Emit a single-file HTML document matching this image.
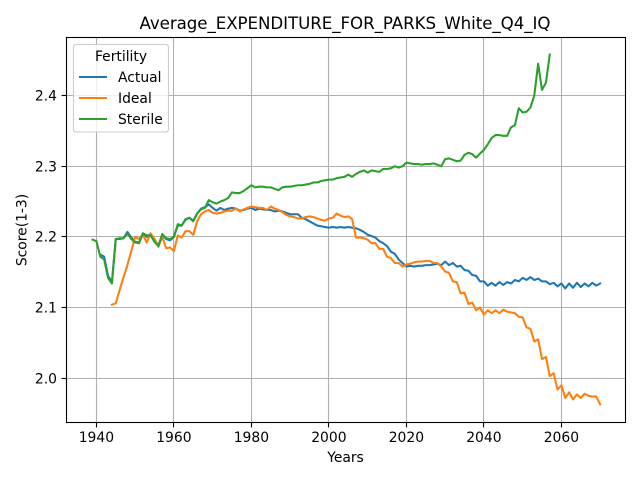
<!DOCTYPE html>
<html>
<head>
<meta charset="utf-8">
<title>Average_EXPENDITURE_FOR_PARKS_White_Q4_IQ</title>
<style>
html,body{margin:0;padding:0;background:#fff;width:640px;height:480px;overflow:hidden}
svg{display:block}
text{font-family:"DejaVu Sans","Liberation Sans",sans-serif;fill:#000}
</style>
</head>
<body>
<svg id="chart" width="640" height="480" viewBox="0 0 640 480" xmlns="http://www.w3.org/2000/svg"></svg>
<script>
const xTickLabels = [1940, 1960, 1980, 2000, 2020, 2040, 2060];
const yTickLabels = ["2.0", "2.1", "2.2", "2.3", "2.4"];
const seriesNames = ["Actual", "Ideal", "Sterile"];
const actualStartYear = 1941;
const idealStartYear = 1944;
const sterileStartYear = 1939;
const actualValues = [2.175,2.172,2.145,2.136,2.197,2.197,2.198,2.207,2.199,2.193,2.192,2.205,2.2,2.204,2.195,2.188,2.203,2.197,2.195,2.2,
2.216,2.216,2.225,2.227,2.223,2.233,2.24,2.242,2.246,2.241,2.237,2.241,2.238,2.24,2.241,2.24,2.237,2.238,2.24,2.241,
2.238,2.24,2.239,2.238,2.238,2.236,2.237,2.236,2.234,2.232,2.232,2.232,2.227,2.225,2.222,2.219,2.216,2.215,2.214,2.213,
2.214,2.213,2.214,2.213,2.214,2.213,2.212,2.21,2.207,2.203,2.201,2.199,2.194,2.191,2.187,2.179,2.176,2.168,2.163,2.158,
2.159,2.158,2.159,2.159,2.16,2.16,2.161,2.162,2.16,2.165,2.16,2.163,2.158,2.159,2.153,2.152,2.146,2.145,2.137,2.137,
2.131,2.135,2.131,2.136,2.132,2.136,2.134,2.139,2.137,2.142,2.139,2.143,2.139,2.141,2.137,2.137,2.133,2.135,2.13,2.134,
2.127,2.134,2.128,2.135,2.129,2.134,2.13,2.135,2.131,2.134];
const idealValues = [2.104,2.106,2.125,2.143,2.16,2.18,2.2,2.197,2.203,2.192,2.205,2.197,2.186,2.2,2.184,2.185,
2.18,2.202,2.199,2.208,2.208,2.203,2.222,2.232,2.236,2.238,2.234,2.233,2.234,2.236,2.237,2.237,2.24,2.236,2.239,2.241,
2.243,2.242,2.241,2.241,2.238,2.243,2.24,2.238,2.235,2.231,2.229,2.228,2.226,2.226,2.228,2.229,2.228,2.226,2.224,2.223,
2.226,2.227,2.233,2.23,2.228,2.229,2.225,2.199,2.199,2.198,2.196,2.191,2.191,2.183,2.183,2.172,2.17,2.163,2.163,2.158,
2.161,2.162,2.164,2.165,2.165,2.166,2.166,2.163,2.163,2.158,2.151,2.149,2.137,2.136,2.12,2.121,2.105,2.107,2.096,2.1,
2.09,2.096,2.092,2.096,2.092,2.097,2.094,2.093,2.092,2.087,2.086,2.072,2.07,2.052,2.055,2.027,2.03,2.003,2.007,1.984,
1.99,1.972,1.98,1.97,1.977,1.972,1.978,1.975,1.974,1.974,1.963];
const sterileValues = [2.196,2.194,2.172,2.168,2.142,2.134,2.197,2.198,2.198,2.205,2.197,2.192,2.191,2.205,2.202,2.202,2.193,2.187,2.204,2.198,2.197,
2.2,2.218,2.216,2.224,2.227,2.222,2.233,2.239,2.241,2.252,2.249,2.247,2.25,2.252,2.255,2.263,2.262,2.262,2.265,2.269,
2.273,2.27,2.271,2.271,2.27,2.27,2.268,2.266,2.27,2.271,2.271,2.272,2.273,2.273,2.274,2.275,2.277,2.277,2.279,2.28,
2.281,2.281,2.283,2.284,2.285,2.288,2.285,2.289,2.292,2.294,2.291,2.294,2.293,2.292,2.296,2.296,2.297,2.3,2.298,2.3,
2.305,2.304,2.303,2.303,2.302,2.303,2.303,2.304,2.302,2.3,2.31,2.311,2.309,2.307,2.308,2.316,2.319,2.317,2.312,2.318,
2.323,2.331,2.34,2.344,2.344,2.343,2.343,2.355,2.358,2.382,2.376,2.377,2.383,2.4,2.445,2.408,2.418,2.458];

const NS = "http://www.w3.org/2000/svg";
const svg = document.getElementById("chart");
const plot = {left: 66.5, right: 625.5, top: 37.5, bottom: 422.5};
function xScale(year) { return 96.4 + (year - 1940) * 3.875; }
function yScale(v) { return 378.2 - (v - 2.0) * 706.7; }
function snap(p) { return Math.floor(p) + 0.5; }
function make(tag, attrs, parent) {
  const el = document.createElementNS(NS, tag);
  for (const k in attrs) el.setAttribute(k, attrs[k]);
  (parent || svg).appendChild(el);
  return el;
}

const bg = make("rect", {x: plot.left, y: plot.top, width: plot.right - plot.left, height: plot.bottom - plot.top, fill: "#fff"});



xTickLabels.forEach(function (yr) {
  const x = snap(xScale(yr));
  const grid = make("line", {x1: x, x2: x, y1: plot.top, y2: plot.bottom, stroke: "#b0b0b0", "stroke-width": 1.1});
  
  
  const tick = make("line", {x1: x, x2: x, y1: plot.bottom, y2: plot.bottom + 4.9, stroke: "#000", "stroke-width": 1.1});
  
  
  const label = make("text", {x: xScale(yr), y: 442, "text-anchor": "middle", "font-size": "13.89px"});
  label.textContent = yr;
  
  
});

yTickLabels.forEach(function (t) {
  const y = snap(yScale(parseFloat(t)));
  const grid = make("line", {x1: plot.left, x2: plot.right, y1: y, y2: y, stroke: "#b0b0b0", "stroke-width": 1.1});
  
  
  const tick = make("line", {x1: plot.left - 4.9, x2: plot.left, y1: y, y2: y, stroke: "#000", "stroke-width": 1.1});
  
  
  const label = make("text", {x: 57, y: y + 5, "text-anchor": "end", "font-size": "13.89px"});
  label.textContent = t;
  
  
});

function drawSeries(values, startYear, color) {
  const pts = values.map(function (v, i) {
    return xScale(startYear + i).toFixed(2) + "," + yScale(v).toFixed(2);
  }).join(" ");
  return make("polyline", {points: pts, fill: "none", stroke: color, "stroke-width": 2.08, "stroke-linejoin": "round", "stroke-linecap": "square"});
}
const actualLine = drawSeries(actualValues, actualStartYear, "#1f77b4");


const idealLine = drawSeries(idealValues, idealStartYear, "#ff7f0e");


const sterileLine = drawSeries(sterileValues, sterileStartYear, "#2ca02c");



const frame = make("rect", {x: plot.left, y: plot.top, width: plot.right - plot.left, height: plot.bottom - plot.top, fill: "none", stroke: "#000", "stroke-width": 1.1});



const title = make("text", {x: 345, y: 29, "text-anchor": "middle", "font-size": "16.67px", textLength: 411, lengthAdjust: "spacing"});
title.textContent = "Average_EXPENDITURE_FOR_PARKS_White_Q4_IQ";



const xTitle = make("text", {x: 345.5, y: 462, "text-anchor": "middle", "font-size": "13.89px"});
xTitle.textContent = "Years";



const yTitle = make("text", {x: 0, y: 0, "text-anchor": "middle", "font-size": "13.89px", transform: "translate(26.5,230) rotate(-90)"});
yTitle.textContent = "Score(1-3)";



const legend = make("g", {});


const legendBox = make("rect", {x: 73.5, y: 44.5, width: 95, height: 87.5, rx: 2.8, fill: "#fff", "fill-opacity": 0.8, stroke: "#ccc", "stroke-width": 1.1}, legend);


const legendTitle = make("text", {x: 121, y: 61, "text-anchor": "middle", "font-size": "13.89px"}, legend);
legendTitle.textContent = "Fertility";


const legendColors = ["#1f77b4", "#ff7f0e", "#2ca02c"];
seriesNames.forEach(function (name, i) {
  const y = 77 + i * 21;
  const swatch = make("line", {x1: 79, x2: 107, y1: y, y2: y, stroke: legendColors[i], "stroke-width": 2.08}, legend);
  
  
  const label = make("text", {x: 118, y: y + 5, "font-size": "13.89px"}, legend);
  label.textContent = name;
  
  
});
</script>
</body>
</html>
